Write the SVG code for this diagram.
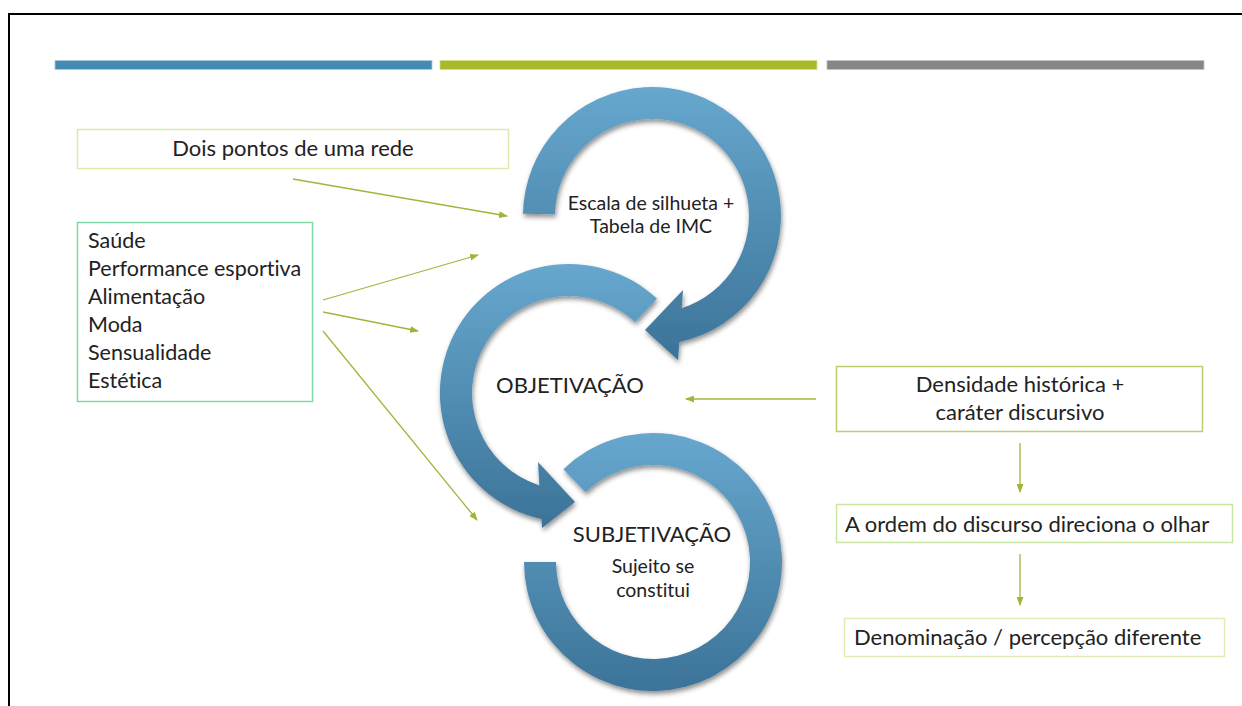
<svg xmlns="http://www.w3.org/2000/svg" width="1242" height="706" viewBox="0 0 1242 706">
<style>
.t{font-family:Lato,"Open Sans","Liberation Sans",sans-serif;fill:#222;font-variant-ligatures:none;}
.big{font-size:22px;}
.lst{font-size:21.5px;}
.mid{font-size:19.5px;}
.c{text-anchor:middle;}
.conn{stroke:#9cb83a;stroke-width:1.3;fill:none;marker-end:url(#ah);}
.ring{fill:url(#blue);filter:url(#sh);}
</style>
<defs>
<linearGradient id="blue" x1="0" y1="0" x2="0" y2="1">
<stop offset="0" stop-color="#67a7ce"/>
<stop offset="1" stop-color="#3c7398"/>
</linearGradient>
<filter id="sh" x="-20%" y="-20%" width="140%" height="140%">
<feDropShadow dx="1" dy="3" stdDeviation="2.5" flood-color="#000" flood-opacity="0.45"/>
</filter>
<marker id="ah" markerUnits="userSpaceOnUse" markerWidth="9" markerHeight="7" refX="8" refY="3.5" orient="auto">
<path d="M0,0 L9,3.5 L0,7 z" fill="#9cb83a"/>
</marker>
</defs>
<rect width="1242" height="706" fill="#fff"/>
<path d="M9,706 V14 H1242" fill="none" stroke="#000" stroke-width="2"/>
<g id="bars">
<rect x="55" y="60.5" width="377" height="9" fill="#438bb2" stroke="#a9cde0" stroke-width="0.8"/>
<rect x="440" y="60.5" width="377" height="9" fill="#a8b92a" stroke="#d6e08f" stroke-width="0.8"/>
<rect x="827" y="60.5" width="377" height="9" fill="#868686" stroke="#c4c4c4" stroke-width="0.8"/>
</g>
<g id="ring-subjetivacao">
<path class="ring" d="M524,562 A129,129 0 1 0 563.4,469.2 L585.6,492.2 A97,97 0 1 1 556,562 Z"/>
<text class="t big c" x="652" y="542">SUBJETIVAÇÃO</text>
<text class="t mid c" x="653" y="573">Sujeito se</text>
<text class="t mid c" x="653" y="597">constitui</text>
</g>
<g id="ring-objetivacao">
<path class="ring" d="M657,298.7 A129,129 0 1 0 541.5,519 L542,528 L575,502 L538,462 L539.4,485.4 A97,97 0 1 1 635.2,322.1 Z"/>
<text class="t big c" x="570" y="393">OBJETIVAÇÃO</text>
</g>
<g id="ring-escala">
<path class="ring" d="M523,213.7 A129,129 0 1 1 679.3,342.1 L678,360 L645,330 L683,290 L681.7,308.3 A97,97 0 1 0 555,214.3 Z"/>
<text class="t mid c" x="651" y="210">Escala de silhueta +</text>
<text class="t mid c" x="651" y="233">Tabela de IMC</text>
</g>
<g id="box-dois">
<rect x="77.5" y="129.5" width="431" height="39" fill="#fff" stroke="#e0e9ae" stroke-width="1.5"/>
<text class="t big c" x="293" y="156">Dois pontos de uma rede</text>
</g>
<g id="box-lista">
<rect x="77.5" y="222.5" width="235" height="179" fill="#fff" stroke="#80d9a3" stroke-width="1.5"/>
<text class="t lst" x="88" y="248">Saúde</text>
<text class="t lst" x="88" y="276">Performance esportiva</text>
<text class="t lst" x="88" y="304">Alimentação</text>
<text class="t lst" x="88" y="332">Moda</text>
<text class="t lst" x="88" y="360">Sensualidade</text>
<text class="t lst" x="88" y="388">Estética</text>
</g>
<g id="box-densidade">
<rect x="836.5" y="366.5" width="366" height="65" fill="#fff" stroke="#b8cf72" stroke-width="1.5"/>
<text class="t big c" x="1020" y="392">Densidade histórica +</text>
<text class="t big c" x="1020" y="420">caráter discursivo</text>
</g>
<g id="box-ordem">
<rect x="836.5" y="504.5" width="396" height="38" fill="#fff" stroke="#c8e6a2" stroke-width="1.5"/>
<text class="t big" x="845" y="532">A ordem do discurso direciona o olhar</text>
</g>
<g id="box-denominacao">
<rect x="844.5" y="618.5" width="380" height="38" fill="#fff" stroke="#e2ebb2" stroke-width="1.5"/>
<text class="t big" x="854" y="645">Denominação / percepção diferente</text>
</g>
<g id="connectors">
<path class="conn" d="M293,179 L507,216"/>
<path class="conn" d="M323,300 L478,255"/>
<path class="conn" d="M323,312 L418,331"/>
<path class="conn" d="M323,331 L477,520"/>
<path class="conn" d="M816,399 L686,399"/>
<path class="conn" d="M1020,443 L1020,492"/>
<path class="conn" d="M1020,554 L1020,605"/>
</g>
</svg>
